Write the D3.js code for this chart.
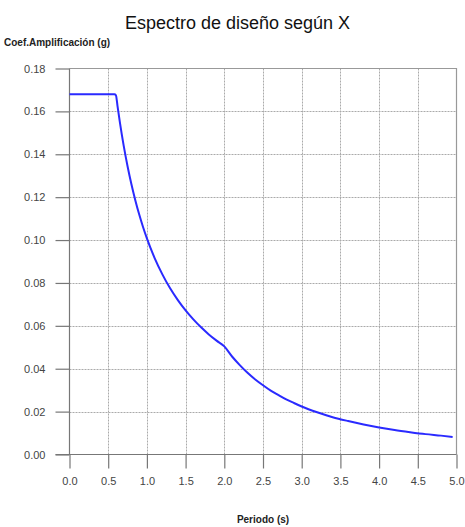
<!DOCTYPE html>
<html><head><meta charset="utf-8">
<script src="https://cdn.jsdelivr.net/npm/d3@7"></script>
<style>
html,body{margin:0;padding:0;background:#fff;}
svg{display:block;}
text{font-family:"Liberation Sans",Arial,sans-serif;}
</style></head><body>
<svg id="chart" width="465" height="527"></svg>
<script>
const title = "Espectro de diseño según X";
const yTitle = "Coef.Amplificación (g)";
const xTitle = "Periodo (s)";
const xTicks = [0,0.5,1,1.5,2,2.5,3,3.5,4,4.5,5];
const yTicks = [0,0.02,0.04,0.06,0.08,0.10,0.12,0.14,0.16,0.18];
const periods = [0,0.1,0.2,0.3,0.4,0.5,0.58,0.6,0.62,0.65,0.7,0.75,0.8,0.85,0.9,0.95,1.0,1.1,1.2,1.3,1.4,1.5,1.6,1.7,1.8,1.9,2.0,2.1,2.2,2.3,2.4,2.5,2.6,2.7,2.8,2.9,3.0,3.2,3.4,3.6,3.8,4.0,4.2,4.4,4.6,4.8,4.95];
const coef = [0.168,0.168,0.168,0.168,0.168,0.168,0.168,0.1675,0.1626,0.1551,0.1440,0.1344,0.1260,0.1186,0.1120,0.1061,0.1008,0.0916,0.0840,0.0775,0.0720,0.0672,0.0630,0.0593,0.0560,0.0531,0.0504,0.0457,0.0417,0.0381,0.0350,0.0323,0.0298,0.0277,0.0257,0.0240,0.0224,0.0197,0.0174,0.0156,0.0140,0.0126,0.0114,0.0104,0.0095,0.0088,0.0082];

const svg = d3.select("#chart");
const L = 69.5, R = 456.5, T = 68.5, B = 454.5;
const x = d3.scaleLinear().domain([0,5]).range([L,R]);
const y = d3.scaleLinear().domain([0,0.18]).range([B,T]);

// grid
const g = svg.append("g");
g.selectAll(".vg").data(xTicks.filter(d=>d>0&&d<5)).join("line")
  .attr("x1",d=>Math.round(x(d))+0.5).attr("x2",d=>Math.round(x(d))+0.5)
  .attr("y1",T).attr("y2",B)
  .attr("stroke","#aaa").attr("stroke-dasharray","2,1").attr("stroke-width",1);
g.selectAll(".hg").data(yTicks.filter(d=>d>0&&d<0.18)).join("line")
  .attr("y1",d=>Math.round(y(d))+0.5).attr("y2",d=>Math.round(y(d))+0.5)
  .attr("x1",L).attr("x2",R)
  .attr("stroke","#aaa").attr("stroke-dasharray","2,1").attr("stroke-width",1);
// border top/right
svg.append("path").attr("d",`M${L},${T}H${R}V${B}`).attr("fill","none").attr("stroke","#999").attr("stroke-width",1.2);

// axes
const xAxis = d3.axisBottom(x).tickValues(xTicks).tickSize(14).tickPadding(9).tickFormat(d3.format(".1f"));
const yAxis = d3.axisLeft(y).tickValues(yTicks).tickSize(14).tickPadding(10).tickFormat(d3.format(".2f"));
const gx = svg.append("g").attr("transform",`translate(0,${B})`).call(xAxis);
const gy = svg.append("g").attr("transform",`translate(${L},0)`).call(yAxis);
[gx,gy].forEach(a=>{
  a.select(".domain").attr("stroke","#777").attr("stroke-width",1.2);
  a.selectAll(".tick line").attr("stroke","#777").attr("stroke-width",1.2);
  a.selectAll(".tick text").attr("fill","#444").attr("font-size",11).attr("font-family","Liberation Sans,Arial,sans-serif");
});
gy.select(".domain").attr("d",`M0,${B}V${T}`);
gx.select(".domain").attr("d",`M${L-14},0H${R}`);

// line
svg.append("path").datum(periods.map((p,i)=>[p,coef[i]]))
  .attr("d",d3.line().x(d=>x(d[0])).y(d=>y(d[1])).curve(d3.curveMonotoneX))
  .attr("fill","none").attr("stroke","#2a2aff").attr("stroke-width",2).attr("stroke-linejoin","round");

svg.append("text").attr("x",237.5).attr("y",29).attr("text-anchor","middle").attr("font-size",18).attr("fill","#111").text(title);
svg.append("text").attr("x",4).attr("y",46).attr("font-size",10).attr("font-weight","bold").attr("fill","#222").text(yTitle);
svg.append("text").attr("x",(L+R)/2).attr("y",523).attr("text-anchor","middle").attr("font-size",10).attr("font-weight","bold").attr("fill","#222").text(xTitle);
</script>
</body></html>
